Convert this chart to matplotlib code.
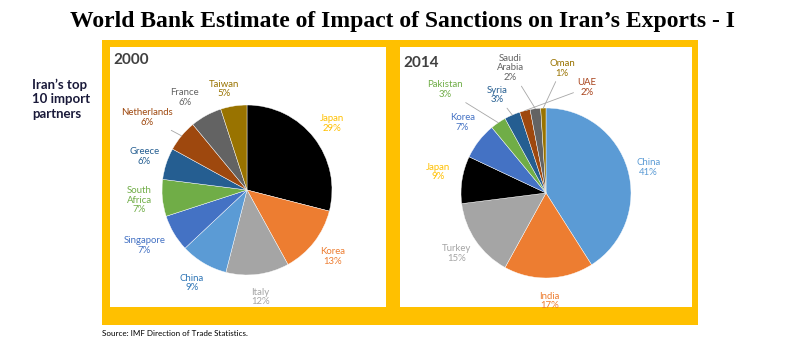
import matplotlib
matplotlib.use("Agg")
import matplotlib.pyplot as plt
from matplotlib.patches import Rectangle
import numpy as np

# Iran's top 10 import partners, share in %
partners_2000 = ["Japan", "Korea", "Italy", "China", "Singapore", "South\nAfrica",
                 "Greece", "Netherlands", "France", "Taiwan"]
shares_2000 = [29, 13, 12, 9, 7, 7, 6, 6, 6, 5]

partners_2014 = ["China", "India", "Turkey", "Japan", "Korea", "Pakistan",
                 "Syria", "UAE", "Saudi\nArabia", "Oman"]
shares_2014 = [41, 17, 15, 9, 7, 3, 3, 2, 2, 1]

title = "World Bank Estimate of Impact of Sanctions on Iran\u2019s Exports - I"
source = "Source: IMF Direction of Trade Statistics."

# colours (excel office palette)
slice_2000 = ["#000000", "#ED7D31", "#A5A5A5", "#5B9BD5", "#4472C4", "#70AD47",
              "#255E91", "#9E480E", "#636363", "#997300"]
text_2000 = ["#FFC000", "#ED7D31", "#A5A5A5", "#2E75B6", "#4472C4", "#70AD47",
             "#255E91", "#9E480E", "#636363", "#997300"]
slice_2014 = ["#5B9BD5", "#ED7D31", "#A5A5A5", "#000000", "#4472C4", "#70AD47",
              "#255E91", "#9E480E", "#636363", "#997300"]
text_2014 = ["#5B9BD5", "#ED7D31", "#A5A5A5", "#FFC000", "#4472C4", "#70AD47",
             "#255E91", "#A8421A", "#636363", "#997300"]

W, H = 804, 348
R = 85
FONT = "Lato"

fig = plt.figure(figsize=(W / 100, H / 100), dpi=100)
ax = fig.add_axes([0, 0, 1, 1])

# yellow frame and the two white panels (pixel coords, y from top)
ax.add_patch(Rectangle((102, H - 325), 596, 285, fc="#FFC000", ec="none"))
ax.add_patch(Rectangle((110, H - 307), 276, 260, fc="white", ec="none"))
ax.add_patch(Rectangle((400, H - 307), 292, 260, fc="white", ec="none"))


def draw_pie(names, shares, colors, tcolors, cx, cy, place, leaders):
    cy = H - cy
    wedges, _ = ax.pie(shares, colors=colors, startangle=90, counterclock=False,
                       center=(cx, cy), radius=R,
                       wedgeprops=dict(edgecolor="white", linewidth=0.3))
    for w, name, s, tc in zip(wedges, names, shares, tcolors):
        mid = (w.theta1 + w.theta2) / 2
        ang, dist = place.get(name, (mid, 1.27))
        tx = cx + dist * R * np.cos(np.deg2rad(ang))
        ty = cy + dist * R * np.sin(np.deg2rad(ang))
        lbl = f"{name}\n{s}%"
        if name in leaders:
            ex = cx + R * np.cos(np.deg2rad(mid))
            ey = cy + R * np.sin(np.deg2rad(mid))
            ax.annotate(lbl, xy=(ex, ey), xytext=(tx, ty), ha="center", va="center",
                        fontsize=6.9, color=tc, family=FONT, linespacing=1.1,
                        arrowprops=dict(arrowstyle="-", color="#A6A6A6", lw=0.6,
                                        shrinkA=1, shrinkB=0))
        else:
            ax.text(tx, ty, lbl, ha="center", va="center", fontsize=6.9,
                    color=tc, family=FONT, linespacing=1.1)


draw_pie(partners_2000, shares_2000, slice_2000, text_2000, 247, 190,
         {"Netherlands": (144, 1.45), "France": (124, 1.31),
          "Singapore": (-151.7, 1.37), "Taiwan": (103, 1.22)},
         ["Netherlands"])

draw_pie(partners_2014, shares_2014, slice_2014, text_2014, 546, 193,
         {"Pakistan": (134.4, 1.70), "Syria": (116.6, 1.29),
          "Saudi\nArabia": (106, 1.53), "UAE": (68.7, 1.33), "Oman": (82.7, 1.48),
          "China": (14, 1.24), "Japan": (169, 1.29), "Korea": (139.8, 1.29)},
         ["Pakistan", "Syria", "Saudi\nArabia", "UAE", "Oman"])

ax.set_xlim(0, W)
ax.set_ylim(0, H)
ax.set_aspect("auto")
ax.axis("off")

ax.text(113, H - 60, "2000", ha="left", va="center", fontsize=11,
        fontweight="bold", color="#404040", family=FONT)
ax.text(403, H - 63, "2014", ha="left", va="center", fontsize=11,
        fontweight="bold", color="#404040", family=FONT)

ax.text(402, H - 21, title, ha="center", va="center", fontsize=17,
        fontweight="bold", family="Liberation Serif")
ax.text(32, H - 99, "Iran\u2019s top\n10 import\npartners", ha="left", va="center",
        fontsize=9.5, fontweight="bold", color="#1A1A3A", family=FONT,
        linespacing=1.25)
ax.text(102, H - 333, source, ha="left", va="center", fontsize=5.8,
        color="black", family=FONT)

fig.savefig("out.png", dpi=100)
